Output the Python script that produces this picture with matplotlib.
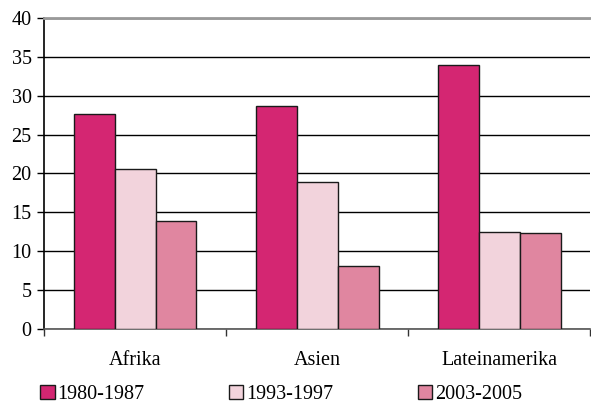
import numpy as np
import matplotlib.pyplot as plt

categories = ['Afrika', 'Asien', 'Lateinamerika']
series_names = ['1980-1987', '1993-1997', '2003-2005']
v1980 = [27.6, 28.7, 34.0]
v1993 = [20.6, 18.9, 12.5]
v2003 = [13.9, 8.1, 12.3]
yticks = [0, 5, 10, 15, 20, 25, 30, 35, 40]

plt.rcParams['font.family'] = ['Liberation Serif', 'DejaVu Serif']

fig = plt.figure(figsize=(5.91, 4.09), dpi=100)
ax = fig.add_axes([0.0745, 0.196, 0.924, 0.76])

COLORS = ['#D42672', '#F2D3DC', '#E086A0']
WIDTH = 0.225
x = np.arange(len(categories))
for i, (vals, name) in enumerate(zip([v1980, v1993, v2003], series_names)):
    ax.bar(x + (i - 1) * WIDTH, vals, width=WIDTH, color=COLORS[i],
           edgecolor='#1a1a1a', linewidth=1.0, label=name, zorder=3)

ax.set_ylim(0, 40)
ax.set_xlim(-0.5, 2.5)
ax.set_yticks(yticks)
ax.set_yticklabels([str(t) for t in yticks], fontsize=14.5)
ax.yaxis.grid(True, color='black', linewidth=1.0, zorder=0)
ax.set_axisbelow(True)

ax.set_xticks(x)
ax.set_xticklabels(categories, fontsize=14.5)
ax.tick_params(axis='x', length=0, pad=16)
ax.set_xticks([-0.5, 0.5, 1.5, 2.5], minor=True)
ax.tick_params(axis='x', which='minor', length=5, width=1, color='#333333')
ax.tick_params(axis='y', length=5, width=1, pad=4)

ax.spines['right'].set_visible(False)
ax.spines['top'].set_color('#999999')
ax.spines['top'].set_linewidth(2)
ax.spines['left'].set_linewidth(1.2)
ax.spines['bottom'].set_color('#555555')
ax.spines['bottom'].set_linewidth(1.2)

fig.legend(loc='lower left', bbox_to_anchor=(0.06, 0.0),
           ncol=3, frameon=False, fontsize=14.5,
           handlelength=0.7, handleheight=0.7, handletextpad=0.15,
           columnspacing=4.2, borderaxespad=0.0, borderpad=0.25)

plt.savefig('out.png', dpi=100)
